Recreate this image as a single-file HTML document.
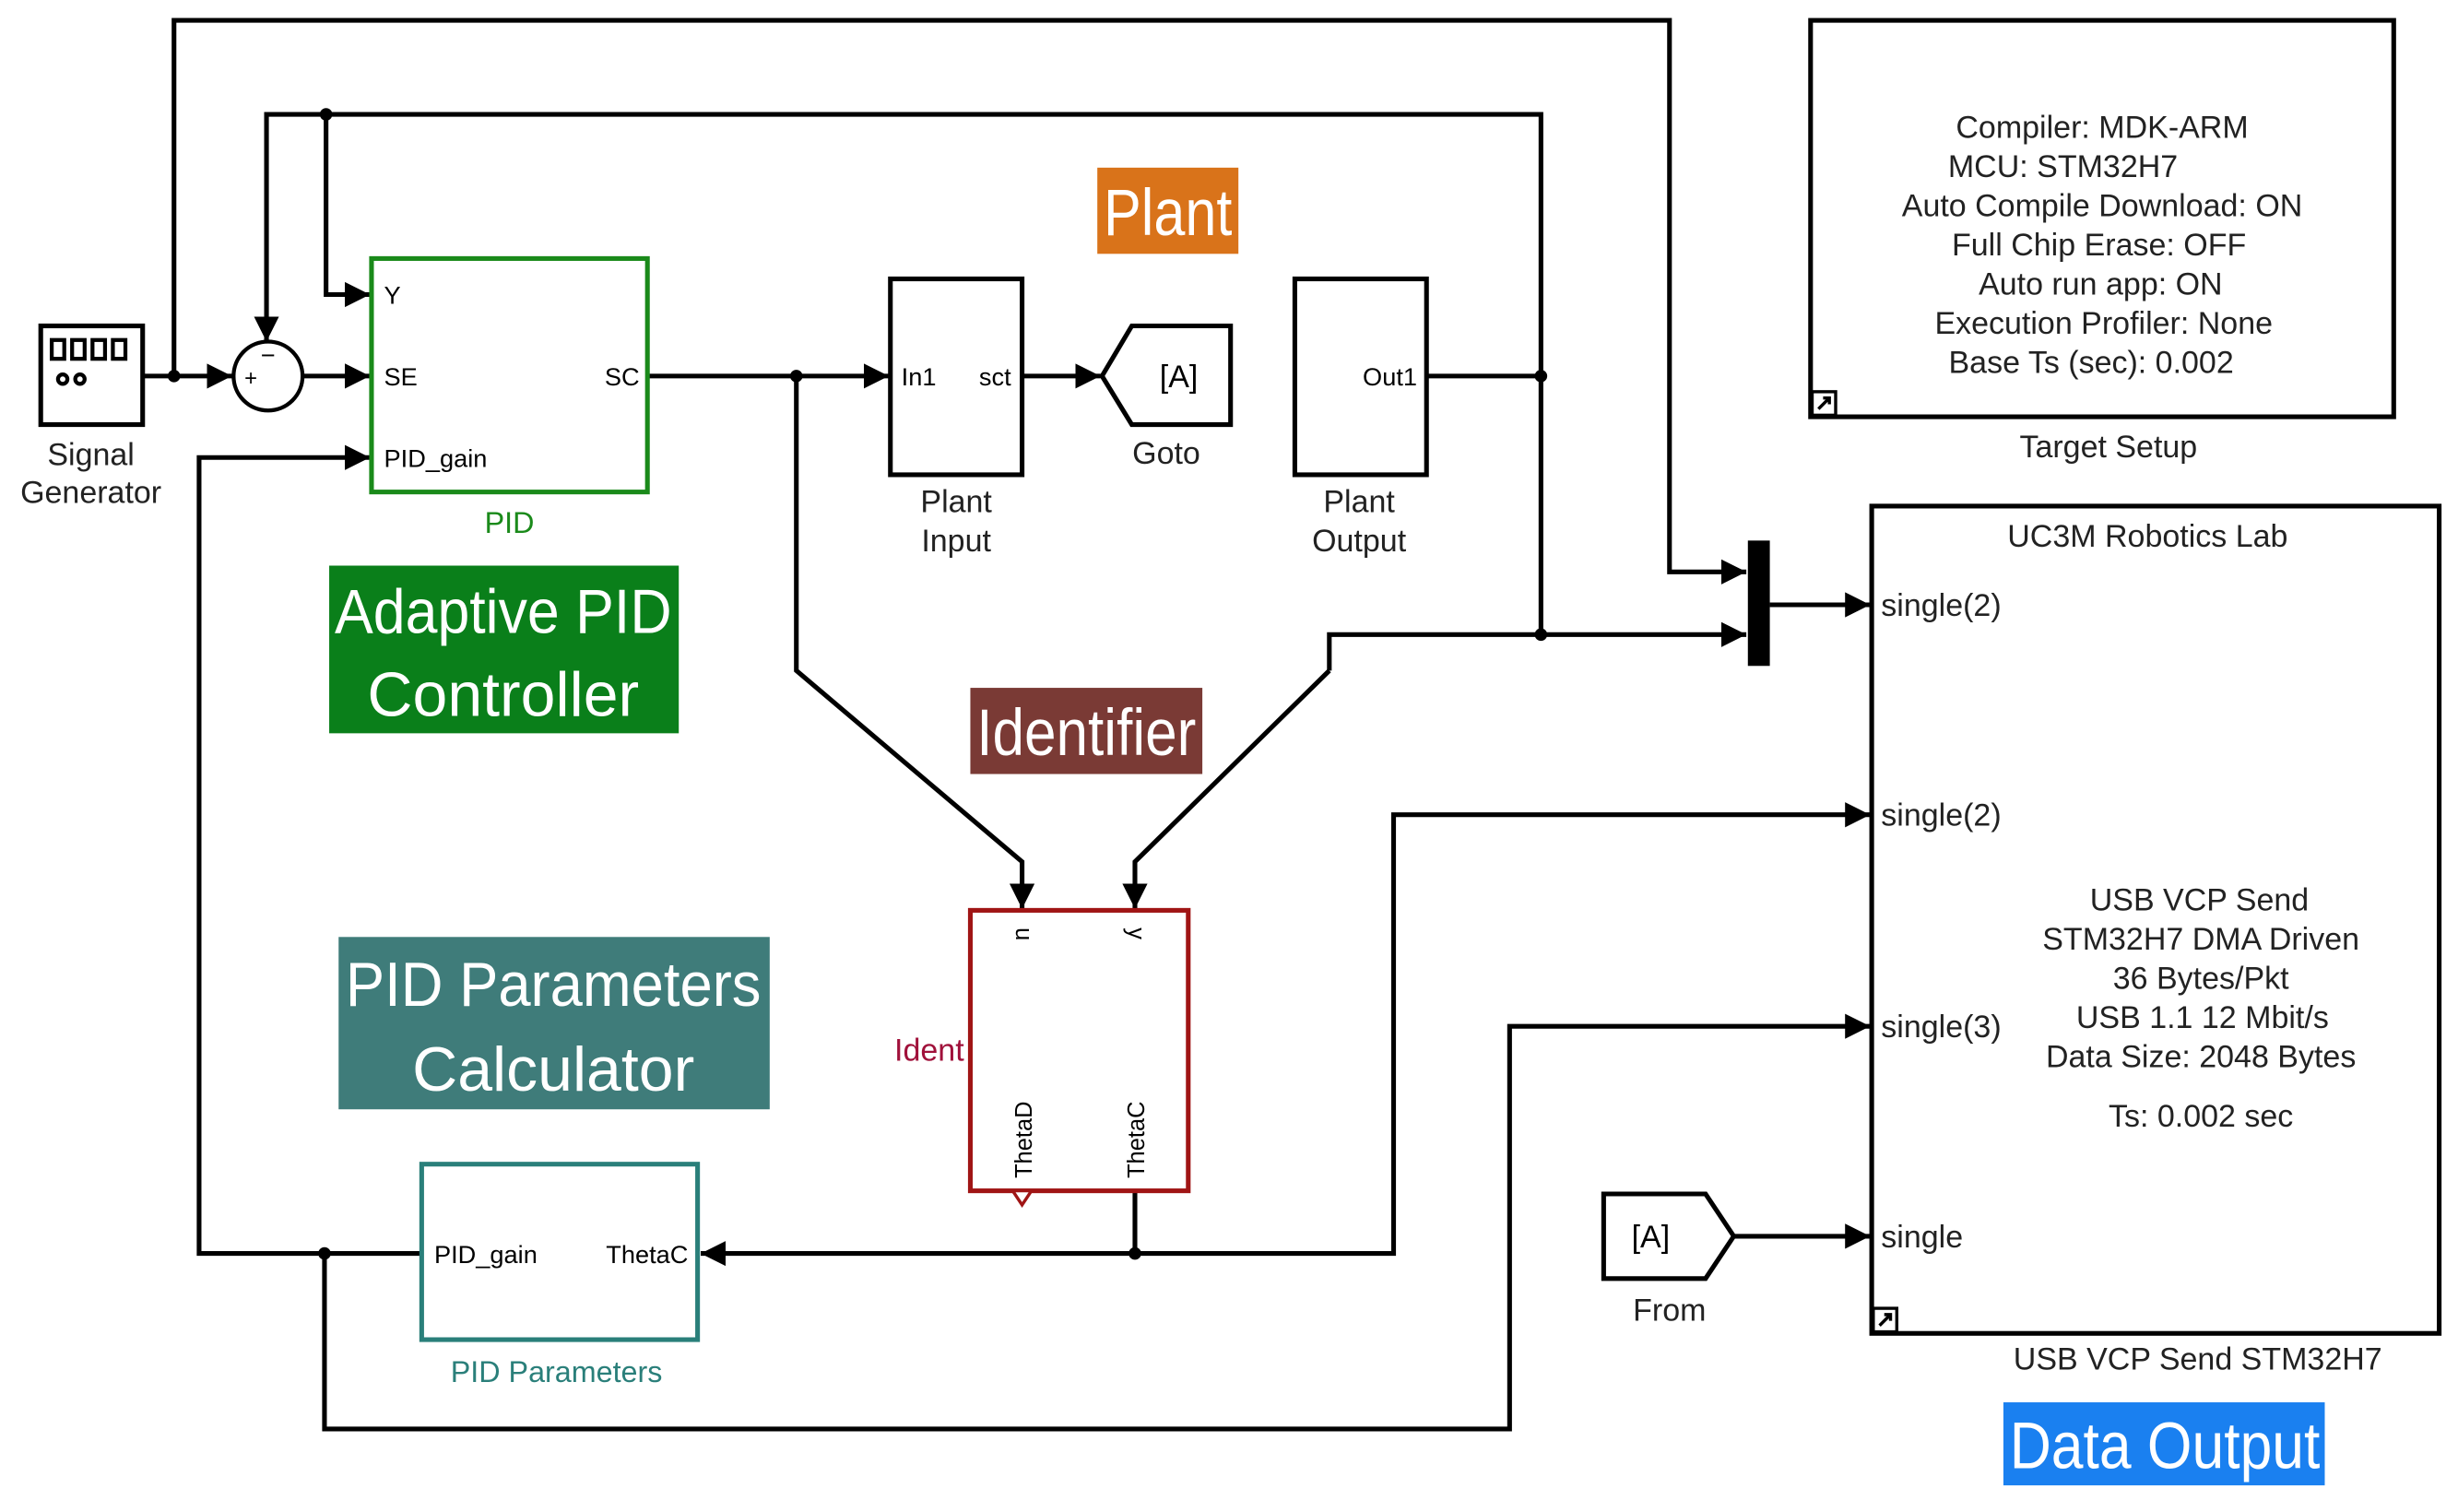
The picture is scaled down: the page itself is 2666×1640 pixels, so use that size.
<!DOCTYPE html>
<html><head><meta charset="utf-8"><style>
html,body{margin:0;padding:0;background:#fff;}
svg{display:block;}
text{font-family:"Liberation Sans",Arial,sans-serif;}
</style></head><body>
<svg width="2666" height="1640" viewBox="0 0 1568 965" preserveAspectRatio="none" xmlns="http://www.w3.org/2000/svg">
<defs>
<marker id="a" markerUnits="userSpaceOnUse" markerWidth="18" markerHeight="18" refX="16" refY="9" orient="auto">
<path d="M0,1 L16,9 L0,17 Z" fill="#000"/></marker>
</defs>
<rect width="1568" height="965" fill="#fff"/>
<g fill="none" stroke="#000" stroke-width="3">
<!-- top loop -->
<polyline points="111,240 111,13 1065,13 1065,365 1114,365" marker-end="url(#a)"/>
<polyline points="983,240 983,73 170,73 170,218" marker-end="url(#a)"/>
<polyline points="208,73 208,188 236,188" marker-end="url(#a)"/>
<polyline points="91,240 148,240" marker-end="url(#a)"/>
<polyline points="193,240 236,240" marker-end="url(#a)"/>
<polyline points="413,240 567,240" marker-end="url(#a)"/>
<polyline points="508,240 508,428 652,550 652,580" marker-end="url(#a)"/>
<polyline points="652,240 702,240" marker-end="url(#a)"/>
<polyline points="910,240 983,240 983,405"/>
<polyline points="848,428 848,405 1114,405" marker-end="url(#a)"/>
<polyline points="848,428 724,550 724,580" marker-end="url(#a)"/>
<polyline points="1129,386 1193,386" marker-end="url(#a)"/>
<polyline points="724,760 724,800 447,800" marker-end="url(#a)"/>
<polyline points="724,800 889,800 889,520 1193,520" marker-end="url(#a)"/>
<polyline points="269,800 127,800 127,292 236,292" marker-end="url(#a)"/>
<polyline points="207,800 207,912 963,912 963,655 1193,655" marker-end="url(#a)"/>
<polyline points="1106,789 1193,789" marker-end="url(#a)"/>
</g>
<g fill="#000">
<circle cx="111" cy="240" r="4"/><circle cx="208" cy="73" r="4"/><circle cx="508" cy="240" r="4"/>
<circle cx="983" cy="240" r="4"/><circle cx="983" cy="405" r="4"/><circle cx="724" cy="800" r="4"/><circle cx="207" cy="800" r="4"/>
<rect x="1115" y="345" width="14" height="80"/>
</g>
<!-- signal generator -->
<rect x="26" y="208" width="65" height="63" fill="#fff" stroke="#000" stroke-width="3"/>
<g fill="#fff" stroke="#000" stroke-width="2.5">
<rect x="33" y="217" width="8" height="12"/><rect x="46" y="217" width="8" height="12"/><rect x="59" y="217" width="8" height="12"/><rect x="72" y="217" width="8" height="12"/>
<circle cx="40" cy="242" r="3"/><circle cx="51" cy="242" r="3"/></g>
<text x="58" y="297" font-size="20" text-anchor="middle" fill="#222">Signal</text>
<text x="58" y="321" font-size="20" text-anchor="middle" fill="#222">Generator</text>
<!-- sum -->
<circle cx="171" cy="240" r="22" fill="#fff" stroke="#000" stroke-width="2.5"/>
<text x="171" y="232" font-size="16" text-anchor="middle">−</text>
<text x="160" y="246" font-size="14" text-anchor="middle">+</text>
<!-- PID -->
<rect x="237" y="165" width="176" height="149" fill="#fff" stroke="#1a8a1a" stroke-width="3"/>
<text x="245" y="194" font-size="16">Y</text>
<text x="245" y="246" font-size="16">SE</text>
<text x="245" y="298" font-size="16">PID_gain</text>
<text x="408" y="246" font-size="16" text-anchor="end">SC</text>
<text x="325" y="340" font-size="19" text-anchor="middle" fill="#1a8a1a">PID</text>
<!-- plant input -->
<rect x="568" y="178" width="84" height="125" fill="#fff" stroke="#000" stroke-width="3"/>
<text x="575" y="246" font-size="16">In1</text>
<text x="645" y="246" font-size="16" text-anchor="end">sct</text>
<text x="610" y="327" font-size="20" text-anchor="middle" fill="#222">Plant</text>
<text x="610" y="352" font-size="20" text-anchor="middle" fill="#222">Input</text>
<!-- goto -->
<polygon points="703,240 722,208 785,208 785,271 722,271" fill="#fff" stroke="#000" stroke-width="3"/>
<text x="752" y="247" font-size="20" text-anchor="middle">[A]</text>
<text x="744" y="296" font-size="20" text-anchor="middle" fill="#222">Goto</text>
<!-- plant output -->
<rect x="826" y="178" width="84" height="125" fill="#fff" stroke="#000" stroke-width="3"/>
<text x="904" y="246" font-size="16" text-anchor="end">Out1</text>
<text x="867" y="327" font-size="20" text-anchor="middle" fill="#222">Plant</text>
<text x="867" y="352" font-size="20" text-anchor="middle" fill="#222">Output</text>
<!-- colored labels -->
<rect x="700" y="107" width="90" height="55" fill="#d9731a"/>
<text x="745" y="150" font-size="42" text-anchor="middle" fill="#fff" textLength="82" lengthAdjust="spacingAndGlyphs">Plant</text>
<rect x="210" y="361" width="223" height="107" fill="#0a7f1a"/>
<text x="321" y="404" font-size="40" text-anchor="middle" fill="#fff" textLength="215" lengthAdjust="spacingAndGlyphs">Adaptive PID</text>
<text x="321" y="457" font-size="40" text-anchor="middle" fill="#fff">Controller</text>
<rect x="619" y="439" width="148" height="55" fill="#7a3a35"/>
<text x="693" y="482" font-size="42" text-anchor="middle" fill="#fff" textLength="140" lengthAdjust="spacingAndGlyphs">Identifier</text>
<rect x="216" y="598" width="275" height="110" fill="#3f7c7a"/>
<text x="353" y="642" font-size="40" text-anchor="middle" fill="#fff" textLength="265" lengthAdjust="spacingAndGlyphs">PID Parameters</text>
<text x="353" y="696" font-size="40" text-anchor="middle" fill="#fff">Calculator</text>
<rect x="1278" y="895" width="205" height="53" fill="#1a80f0"/>
<text x="1381" y="937" font-size="42" text-anchor="middle" fill="#fff" textLength="198" lengthAdjust="spacingAndGlyphs">Data Output</text>
<!-- Ident -->
<rect x="619" y="581" width="139" height="179" fill="#fff" stroke="#a01515" stroke-width="3"/>
<polygon points="646,760 658,760 652,769" fill="#fff" stroke="#a01515" stroke-width="2"/>
<text transform="translate(648,592) rotate(90)" font-size="15">u</text>
<text transform="translate(720,592) rotate(90)" font-size="15">y</text>
<text transform="translate(658,752) rotate(-90)" font-size="15">ThetaD</text>
<text transform="translate(730,752) rotate(-90)" font-size="15">ThetaC</text>
<text x="615" y="677" font-size="20" text-anchor="end" fill="#a0103a">Ident</text>
<!-- PID Parameters -->
<rect x="269" y="743" width="176" height="112" fill="#fff" stroke="#2a7f7a" stroke-width="3"/>
<text x="277" y="806" font-size="16">PID_gain</text>
<text x="439" y="806" font-size="16" text-anchor="end">ThetaC</text>
<text x="355" y="882" font-size="19" text-anchor="middle" fill="#2a7f7a">PID Parameters</text>
<!-- Target Setup -->
<rect x="1155" y="13" width="372" height="253" fill="#fff" stroke="#000" stroke-width="3"/>
<g font-size="20" text-anchor="middle" fill="#222">
<text x="1341" y="88">Compiler: MDK-ARM</text>
<text x="1316" y="113">MCU: STM32H7</text>
<text x="1341" y="138">Auto Compile Download: ON</text>
<text x="1339" y="163">Full Chip Erase: OFF</text>
<text x="1340" y="188">Auto run app: ON</text>
<text x="1342" y="213">Execution Profiler: None</text>
<text x="1334" y="238">Base Ts (sec): 0.002</text>
<text x="1345" y="292">Target Setup</text>
</g>
<rect x="1156" y="250" width="15" height="15" fill="#fff" stroke="#000" stroke-width="2"/>
<path d="M1160,261 L1167,254 M1163,254 L1167,254 L1167,258" stroke="#000" stroke-width="2" fill="none"/>
<!-- USB -->
<rect x="1194" y="323" width="362" height="528" fill="#fff" stroke="#000" stroke-width="3"/>
<g font-size="20" fill="#222">
<text x="1370" y="349" text-anchor="middle">UC3M Robotics Lab</text>
<text x="1200" y="393">single(2)</text>
<text x="1200" y="527">single(2)</text>
<text x="1200" y="662">single(3)</text>
<text x="1200" y="796">single</text>
<g text-anchor="middle">
<text x="1403" y="581">USB VCP Send</text>
<text x="1404" y="606">STM32H7 DMA Driven</text>
<text x="1404" y="631">36 Bytes/Pkt</text>
<text x="1405" y="656">USB 1.1 12 Mbit/s</text>
<text x="1404" y="681">Data Size: 2048 Bytes</text>
<text x="1404" y="719">Ts: 0.002 sec</text>
<text x="1402" y="874">USB VCP Send STM32H7</text>
</g></g>
<rect x="1195" y="835" width="15" height="15" fill="#fff" stroke="#000" stroke-width="2"/>
<path d="M1199,846 L1206,839 M1202,839 L1206,839 L1206,843" stroke="#000" stroke-width="2" fill="none"/>
<!-- From -->
<polygon points="1023,762 1088,762 1106,789 1088,816 1023,816" fill="#fff" stroke="#000" stroke-width="3"/>
<text x="1053" y="796" font-size="20" text-anchor="middle">[A]</text>
<text x="1065" y="843" font-size="20" text-anchor="middle" fill="#222">From</text>
</svg>
</body></html>
